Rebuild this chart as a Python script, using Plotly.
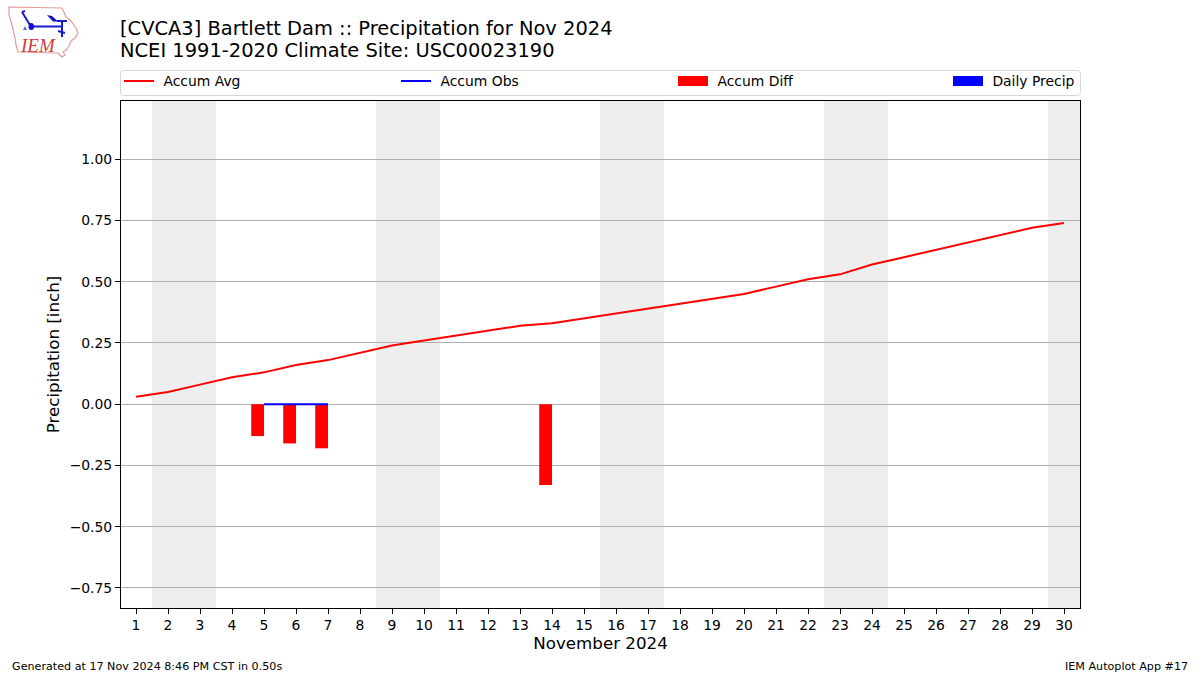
import plotly.graph_objects as go

days = list(range(1, 31))
accum_avg = [0.03, 0.05, 0.08, 0.11, 0.13, 0.16, 0.18, 0.21, 0.24, 0.26,
             0.28, 0.30, 0.32, 0.33, 0.35, 0.37, 0.39, 0.41, 0.43, 0.45,
             0.48, 0.51, 0.53, 0.57, 0.60, 0.63, 0.66, 0.69, 0.72, 0.74]
obs_days = [5, 6, 7]
accum_obs = [0.0, 0.0, 0.0]
diff_days = [5, 6, 7, 14]
accum_diff = [-0.13, -0.16, -0.18, -0.33]
daily_precip = [0.0, 0.0, 0.0]
weekends = [(1.5, 3.5), (8.5, 10.5), (15.5, 17.5), (22.5, 24.5), (29.5, 30.5)]
y_ticks = [-0.75, -0.50, -0.25, 0.00, 0.25, 0.50, 0.75, 1.00]
y_ticktext = ["\u22120.75", "\u22120.50", "\u22120.25", "0.00", "0.25", "0.50", "0.75", "1.00"]

W, H = 1200, 675
L, R, T, B = 121, 1080, 101, 608
FONT = "DejaVu Sans"
TXT = "#000000"


def px(x):
    return (x - L) / (R - L)


def py(y):
    return (B - y) / (B - T)


def path(points, close=False):
    s = "M" + " L".join(f"{px(x):.5f},{py(y):.5f}" for x, y in points)
    return s + (" Z" if close else "")


fig = go.Figure()
fig.add_trace(go.Bar(x=diff_days, y=accum_diff, width=0.4, offset=-0.4,
                     marker=dict(color="#ff0000", line_width=0), showlegend=False, name="Accum Diff"))
fig.add_trace(go.Bar(x=obs_days, y=daily_precip, width=0.4, offset=0,
                     marker=dict(color="#0000ff", line_width=0), showlegend=False, name="Daily Precip"))
fig.add_trace(go.Scatter(x=days, y=accum_avg, mode="lines", name="\u00a0Accum Avg", legend="legend",
                         line=dict(color="#ff0000", width=2)))
fig.add_trace(go.Scatter(x=obs_days, y=accum_obs, mode="lines", name="\u00a0Accum Obs", legend="legend2",
                         line=dict(color="#0000ff", width=2)))
# legend keys for the bar series (wide patches as in the reference)
fig.add_trace(go.Scatter(x=[None], y=[None], mode="lines", name="\u00a0Accum Diff", legend="legend3",
                         line=dict(color="#ff0000", width=10)))
fig.add_trace(go.Scatter(x=[None], y=[None], mode="lines", name="\u00a0Daily Precip", legend="legend4",
                         line=dict(color="#0000ff", width=10)))

shapes = [dict(type="rect", xref="x", yref="paper", x0=a, x1=b, y0=0, y1=1,
               fillcolor="#eeeeee", line_width=0, layer="below") for a, b in weekends]

# legend frame
lx0, lx1, ly0, ly1, r = 120.5, 1080.5, 70.5, 95.5, 3
frame = (f"M{px(lx0+r):.5f},{py(ly0):.5f} L{px(lx1-r):.5f},{py(ly0):.5f} "
         f"Q{px(lx1):.5f},{py(ly0):.5f} {px(lx1):.5f},{py(ly0+r):.5f} "
         f"L{px(lx1):.5f},{py(ly1-r):.5f} Q{px(lx1):.5f},{py(ly1):.5f} {px(lx1-r):.5f},{py(ly1):.5f} "
         f"L{px(lx0+r):.5f},{py(ly1):.5f} Q{px(lx0):.5f},{py(ly1):.5f} {px(lx0):.5f},{py(ly1-r):.5f} "
         f"L{px(lx0):.5f},{py(ly0+r):.5f} Q{px(lx0):.5f},{py(ly0):.5f} {px(lx0+r):.5f},{py(ly0):.5f} Z")
shapes.append(dict(type="path", xref="paper", yref="paper", path=frame,
                   line=dict(color="#d6d6d6", width=1), layer="above"))

# IEM logo
outline = [(9, 7), (62, 8), (64, 12), (66, 17), (71, 21), (76, 28), (78, 33), (75, 38), (71, 41),
           (69, 46), (66, 50), (63, 52), (65, 55), (62, 57), (58, 53), (18, 52), (16, 45),
           (15, 38), (12, 25), (9, 15)]
shapes.append(dict(type="path", xref="paper", yref="paper", path=path(outline, True),
                   line=dict(color="#e49a9a", width=1.2)))
for seg in [[(30, 26.5), (63, 26.5)], [(22, 12), (30, 25)], [(57, 21), (67, 21)], [(62, 21), (62, 37)],
            [(58, 31), (65, 33)], [(22, 12), (25, 11)]]:
    shapes.append(dict(type="path", xref="paper", yref="paper", path=path(seg),
                       line=dict(color="#1a1ad0", width=2)))
shapes.append(dict(type="path", xref="paper", yref="paper",
                   path=path([(47, 15), (52, 16), (58, 21.5), (53, 21.5)], True),
                   fillcolor="#1111cc", line_width=0))
shapes.append(dict(type="circle", xref="paper", yref="paper", x0=px(28.5), x1=px(34), y0=py(30), y1=py(23),
                   fillcolor="#1111cc", line_width=0))
shapes.append(dict(type="path", xref="paper", yref="paper",
                   path=path([(23, 30), (25, 26), (27, 30)], True), fillcolor="#6666dd", line_width=0))

annotations = [
    dict(text="[CVCA3] Bartlett Dam :: Precipitation for Nov 2024", x=px(120), y=py(29), xanchor="left",
         yanchor="middle", font=dict(size=19.44, family=FONT, color=TXT)),
    dict(text="NCEI 1991-2020 Climate Site: USC00023190", x=px(120), y=py(51), xanchor="left",
         yanchor="middle", font=dict(size=19.44, family=FONT, color=TXT)),
    dict(text="Generated at 17 Nov 2024 8:46 PM CST in 0.50s", x=px(12), y=py(666), xanchor="left",
         yanchor="middle", font=dict(size=11.15, family=FONT, color=TXT)),
    dict(text="IEM Autoplot App #17", x=px(1188), y=py(666), xanchor="right",
         yanchor="middle", font=dict(size=11.15, family=FONT, color=TXT)),
    dict(text="<i>IEM</i>", x=px(37.5), y=py(45), xanchor="center", yanchor="middle",
         font=dict(size=19, family="Liberation Serif", color="#d63a3a")),
]
for a in annotations:
    a.update(xref="paper", yref="paper", showarrow=False, xshift=0, yshift=0, borderpad=0, borderwidth=0)


def legend_at(x):
    return dict(x=px(x), y=py(81.5), xanchor="left", yanchor="middle", orientation="h",
                bgcolor="rgba(0,0,0,0)", borderwidth=0, itemwidth=30, itemclick=False, itemdoubleclick=False,
                font=dict(size=13.9, family=FONT, color=TXT))


fig.update_layout(
    width=W, height=H, margin=dict(l=L, r=W - R, t=T, b=H - B, pad=0),
    paper_bgcolor="white", plot_bgcolor="white", barmode="overlay", showlegend=True,
    font=dict(family=FONT, color=TXT, size=13.9),
    shapes=shapes, annotations=annotations,
    legend=legend_at(119), legend2=legend_at(396), legend3=legend_at(673), legend4=legend_at(948),
    xaxis=dict(range=[0.531, 30.5], tickmode="array", tickvals=days, ticktext=[str(d) for d in days],
               ticks="outside", ticklen=5, tickwidth=1, tickcolor="black", tickangle=0,
               showgrid=False, zeroline=False, showline=True, mirror=True, linecolor="black", linewidth=1,
               ticklabelstandoff=-1,
               tickfont=dict(size=13.9, family=FONT, color=TXT),
               title=dict(text="November 2024", font=dict(size=16.7, family=FONT, color=TXT), standoff=5)),
    yaxis=dict(range=[-0.8318, 1.2376], tickmode="array", tickvals=y_ticks, ticktext=y_ticktext,
               ticks="outside", ticklen=5, tickwidth=1, tickcolor="black",
               showgrid=True, gridcolor="#b0b0b0", gridwidth=1, zeroline=False,
               showline=True, mirror=True, linecolor="black", linewidth=1,
               tickfont=dict(size=13.9, family=FONT, color=TXT),
               title=dict(text="Precipitation [inch]", font=dict(size=16.7, family=FONT, color=TXT), standoff=5)),
)
fig.write_html("out.html", config=dict(displayModeBar=False),
               post_script="document.body.style.margin='0';")
